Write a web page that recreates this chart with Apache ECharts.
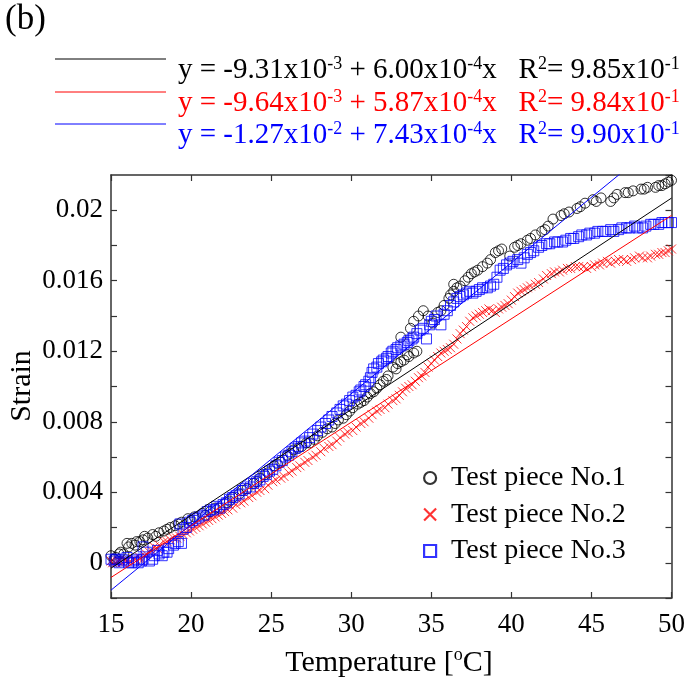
<!DOCTYPE html>
<html>
<head>
<meta charset="utf-8">
<script src="https://cdn.jsdelivr.net/npm/echarts@6/dist/echarts.min.js"></script>
<style>html,body{margin:0;padding:0;background:#fff}#c{width:688px;height:685px}</style>
</head>
<body>
<div id="c"></div>
<script>
// ---- data ----
const seriesNames = ['Test piece No.1', 'Test piece No.2', 'Test piece No.3'];
const seriesColors = ['#000000', '#ff0000', '#0000ff'];
const xTicks = [15, 20, 25, 30, 35, 40, 45, 50];
const yTickLabels = ['0', '0.004', '0.008', '0.012', '0.016', '0.02'];

const piece1 = [[15.0,0.0004],[15.3,0.0003],[15.5,0.0005],[15.8,0.0005],[16.0,0.0011],[16.3,0.0011],[16.5,0.0010],[16.8,0.0012],[17.0,0.0013],[17.3,0.0014],[17.6,0.0016],[18.0,0.0017],[18.3,0.0018],[18.7,0.0020],[19.0,0.0021],[19.4,0.0023],[19.8,0.0025],[20.2,0.0026],[20.7,0.0028],[21.2,0.0029],[21.8,0.0031],[22.2,0.0034],[22.6,0.0037],[23.0,0.0039],[23.5,0.0042],[23.9,0.0045],[24.3,0.0048],[24.8,0.0051],[25.2,0.0055],[25.6,0.0057],[26.0,0.0061],[26.4,0.0064],[26.9,0.0066],[27.4,0.0068],[27.9,0.0072],[28.5,0.0076],[29.0,0.0079],[29.5,0.0082],[29.9,0.0086],[30.4,0.0090],[30.8,0.0092],[31.2,0.0096],[31.6,0.0099],[32.0,0.0103],[32.3,0.0106],[32.6,0.0111],[32.9,0.0113],[33.3,0.0115],[33.6,0.0117],[33.9,0.0119],[33.1,0.0128],[33.7,0.0133],[33.9,0.0137],[34.2,0.0140],[34.5,0.0143],[34.8,0.0140],[35.1,0.0136],[35.4,0.0142],[35.8,0.0146],[36.1,0.0150],[36.4,0.0154],[36.4,0.0158],[36.8,0.0157],[37.1,0.0160],[37.5,0.0164],[37.9,0.0166],[38.2,0.0168],[38.5,0.0170],[39.0,0.0176],[39.4,0.0178],[39.9,0.0174],[40.2,0.0179],[40.6,0.0181],[41.0,0.0183],[41.5,0.0186],[41.9,0.0188],[42.3,0.0191],[42.6,0.0195],[43.1,0.0197],[43.6,0.0199],[44.1,0.0201],[44.6,0.0204],[45.1,0.0206],[45.6,0.0207],[46.2,0.0205],[46.6,0.0209],[47.1,0.0210],[47.6,0.0211],[48.1,0.0212],[48.5,0.0213],[49.0,0.0213],[49.4,0.0214],[49.8,0.0216],[50.0,0.0217],
[15.2,0.0002],[15.6,0.0006],[16.1,0.0009],[16.6,0.0012],[17.1,0.0015],[17.8,0.0015],[18.5,0.0019],[19.2,0.0022],[20.0,0.0024],[20.9,0.0027],[21.5,0.0031],[22.4,0.0035],[23.2,0.0041],[24.1,0.0046],[24.6,0.0050],[25.4,0.0056],[26.2,0.0062],[26.7,0.0065],[27.2,0.0068],[27.7,0.0070],[28.2,0.0074],[28.8,0.0077],[29.2,0.0081],[29.7,0.0084],[30.1,0.0088],[30.6,0.0091],[31.0,0.0094],[31.4,0.0097],[31.8,0.0101],[32.2,0.0104],[32.8,0.0110],[33.1,0.0114],[33.5,0.0118],[34.1,0.0120],[35.6,0.0143],[36.2,0.0152],[36.6,0.0156],[37.3,0.0162],[37.7,0.0165],[38.7,0.0172],[39.2,0.0177],[40.4,0.0180],[41.2,0.0184],[42.1,0.0189],[43.3,0.0198],[44.3,0.0202],[45.3,0.0205],[46.4,0.0207],[47.3,0.0210],[48.3,0.0212],[49.2,0.0214],[49.6,0.0215]];

const piece2 = [[15.0,0.0001],[15.3,0.0000],[15.6,0.0001],[15.9,0.0001],[16.2,0.0001],[16.5,0.0002],[16.8,0.0003],[17.1,0.0004],[17.4,0.0006],[17.7,0.0009],[18.0,0.0010],[18.3,0.0012],[18.7,0.0013],[19.1,0.0014],[19.5,0.0016],[19.9,0.0018],[20.3,0.0020],[20.7,0.0022],[21.1,0.0024],[21.5,0.0026],[21.9,0.0028],[22.3,0.0030],[22.8,0.0033],[23.3,0.0035],[23.8,0.0038],[24.3,0.0041],[24.8,0.0044],[25.3,0.0047],[25.8,0.0049],[26.3,0.0052],[26.8,0.0055],[27.3,0.0058],[27.8,0.0061],[28.3,0.0065],[28.8,0.0067],[29.3,0.0071],[29.8,0.0074],[30.3,0.0077],[30.8,0.0080],[31.3,0.0084],[31.8,0.0087],[32.3,0.0090],[32.8,0.0093],[33.2,0.0097],[33.6,0.0100],[34.0,0.0103],[34.4,0.0106],[34.8,0.0111],[35.2,0.0115],[35.6,0.0119],[36.0,0.0121],[36.4,0.0124],[36.8,0.0130],[37.2,0.0134],[37.6,0.0139],[38.0,0.0141],[38.4,0.0143],[38.8,0.0143],[39.2,0.0144],[39.6,0.0146],[40.0,0.0149],[40.4,0.0153],[40.8,0.0155],[41.2,0.0157],[41.7,0.0159],[42.2,0.0163],[42.7,0.0165],[43.2,0.0166],[43.7,0.0167],[44.2,0.0168],[44.7,0.0167],[45.2,0.0169],[45.7,0.0170],[46.2,0.0170],[46.7,0.0172],[47.2,0.0171],[47.7,0.0173],[48.2,0.0173],[48.7,0.0174],[49.2,0.0175],[49.6,0.0176],[50.0,0.0178],
[15.1,0.0000],[15.4,0.0001],[15.7,0.0000],[16.0,0.0001],[16.4,0.0002],[16.9,0.0001],[17.2,0.0005],[17.5,0.0007],[17.9,0.0008],[18.5,0.0012],[18.9,0.0014],[19.3,0.0015],[19.7,0.0017],[20.1,0.0019],[20.5,0.0021],[20.9,0.0023],[21.3,0.0025],[21.7,0.0027],[22.1,0.0029],[22.6,0.0031],[23.1,0.0034],[23.6,0.0037],[24.1,0.0040],[24.6,0.0042],[25.1,0.0046],[25.6,0.0048],[26.1,0.0051],[26.6,0.0054],[27.1,0.0057],[27.6,0.0060],[28.1,0.0063],[28.6,0.0066],[29.1,0.0069],[29.6,0.0073],[30.1,0.0075],[30.6,0.0079],[31.1,0.0082],[31.6,0.0086],[32.1,0.0088],[32.6,0.0092],[33.0,0.0095],[33.4,0.0099],[33.8,0.0101],[34.2,0.0105],[34.6,0.0108],[35.0,0.0113],[35.4,0.0117],[35.8,0.0120],[36.2,0.0122],[36.6,0.0127],[37.0,0.0132],[37.4,0.0137],[37.8,0.0140],[38.2,0.0142],[38.6,0.0144],[39.0,0.0142],[39.4,0.0145],[39.8,0.0147],[40.2,0.0151],[40.6,0.0154],[41.0,0.0156],[41.5,0.0158],[42.0,0.0161],[42.5,0.0164],[43.0,0.0165],[43.5,0.0167],[44.0,0.0168],[44.5,0.0168],[45.0,0.0168],[45.5,0.0169],[46.0,0.0171],[46.5,0.0171],[47.0,0.0172],[47.5,0.0172],[48.0,0.0174],[48.5,0.0173],[49.0,0.0175],[49.4,0.0176],[49.8,0.0177]];

const piece3 = [[15.2,0.0001],[15.5,0.0000],[15.8,0.0001],[16.1,0.0000],[16.4,0.0001],[16.7,0.0000],[17.0,0.0002],[17.0,0.0009],[17.4,0.0001],[17.7,0.0004],[18.0,0.0005],[18.3,0.0006],[18.6,0.0008],[19.0,0.0011],[19.4,0.0011],[19.3,0.0022],[19.7,0.0020],[20.1,0.0024],[20.5,0.0026],[21.0,0.0029],[21.4,0.0030],[21.8,0.0031],[22.2,0.0034],[22.6,0.0037],[23.0,0.0039],[23.4,0.0042],[23.9,0.0045],[24.3,0.0047],[24.7,0.0050],[25.1,0.0053],[25.5,0.0057],[25.9,0.0060],[26.3,0.0063],[26.7,0.0066],[27.1,0.0069],[27.6,0.0073],[28.1,0.0077],[28.6,0.0081],[29.1,0.0085],[29.5,0.0089],[29.9,0.0092],[30.3,0.0095],[30.6,0.0098],[30.9,0.0101],[31.2,0.0105],[31.4,0.0110],[31.7,0.0113],[32.0,0.0115],[32.3,0.0117],[32.6,0.0120],[32.9,0.0122],[33.3,0.0124],[33.6,0.0126],[33.9,0.0128],[34.3,0.0132],[34.7,0.0127],[35.0,0.0137],[35.3,0.0140],[35.6,0.0135],[36.0,0.0143],[36.4,0.0148],[36.8,0.0151],[37.2,0.0153],[37.6,0.0153],[38.0,0.0155],[38.5,0.0156],[38.9,0.0158],[39.3,0.0166],[39.7,0.0169],[40.1,0.0171],[40.6,0.0170],[41.0,0.0175],[41.4,0.0177],[41.9,0.0180],[42.4,0.0181],[42.9,0.0182],[43.4,0.0183],[43.9,0.0184],[44.4,0.0186],[44.9,0.0187],[45.4,0.0188],[45.9,0.0188],[46.4,0.0188],[46.9,0.0190],[47.4,0.0190],[47.9,0.0190],[48.4,0.0191],[48.9,0.0192],[49.4,0.0193],[49.8,0.0193],[50.0,0.0193],
[15.0,0.0002],[15.3,0.0002],[15.7,0.0002],[16.0,0.0003],[16.3,0.0000],[16.6,0.0002],[16.9,0.0001],[17.2,0.0006],[17.6,0.0002],[17.9,0.0007],[18.2,0.0004],[18.5,0.0006],[18.9,0.0010],[19.2,0.0012],[19.5,0.0019],[19.9,0.0023],[20.3,0.0025],[20.8,0.0027],[21.2,0.0030],[21.6,0.0032],[22.0,0.0033],[22.4,0.0036],[22.8,0.0038],[23.2,0.0041],[23.7,0.0043],[24.1,0.0046],[24.5,0.0049],[24.9,0.0052],[25.3,0.0055],[25.7,0.0058],[26.1,0.0061],[26.5,0.0065],[26.9,0.0068],[27.4,0.0071],[27.9,0.0075],[28.4,0.0079],[28.8,0.0083],[29.3,0.0087],[29.7,0.0090],[30.1,0.0094],[30.5,0.0097],[30.8,0.0100],[31.1,0.0103],[31.3,0.0108],[31.6,0.0111],[31.9,0.0114],[32.2,0.0116],[32.5,0.0119],[32.8,0.0121],[33.1,0.0123],[33.5,0.0125],[33.8,0.0127],[34.1,0.0130],[34.5,0.0133],[34.9,0.0135],[35.2,0.0138],[35.8,0.0141],[36.2,0.0146],[36.6,0.0150],[37.0,0.0152],[37.4,0.0154],[37.8,0.0154],[38.2,0.0156],[38.7,0.0157],[39.1,0.0162],[39.5,0.0167],[39.9,0.0170],[40.4,0.0172],[40.8,0.0173],[41.2,0.0176],[41.7,0.0179],[42.2,0.0181],[42.7,0.0182],[43.2,0.0182],[43.7,0.0184],[44.2,0.0185],[44.7,0.0186],[45.2,0.0187],[45.7,0.0188],[46.2,0.0189],[46.7,0.0189],[47.2,0.0190],[47.7,0.0191],[48.2,0.0190],[48.7,0.0192],[49.2,0.0192],[49.6,0.0193]];

// linear fits y = a + b x
const fitIntercept = [-9.31e-3, -9.64e-3, -1.27e-2];
const fitSlope = [6.00e-4, 5.87e-4, 7.43e-4];
const fitR2 = [0.985, 0.984, 0.990];
const fitRange = [15, 50];

// ---- build ----
const FONT = '"Liberation Serif","Times New Roman",serif';
const crossPath = 'path://M0,0L10,10M10,0L0,10';
const symbols = ['circle', crossPath, 'rect'];
const pieces = [piece1, piece2, piece3];

function sci(v) {
  const s = v.toExponential(2).split('e');
  return { m: s[0], e: String(parseInt(s[1], 10)) };
}

const series = [];
pieces.forEach((d, i) => {
  series.push({
    name: seriesNames[i], type: 'scatter', data: d,
    symbol: symbols[i], symbolSize: i === 1 ? 9 : 10,
    itemStyle: { color: 'transparent', borderColor: seriesColors[i], borderWidth: 1 },
    emphasis: { disabled: true }, z: 2
  });
});
fitIntercept.forEach((a, i) => {
  series.push({
    name: 'fit' + (i + 1), type: 'line', showSymbol: false, clip: true,
    data: fitRange.map(x => [x, a + fitSlope[i] * x]),
    lineStyle: { color: seriesColors[i], width: 1 }, z: 3, silent: true
  });
});

const axisLine = { show: true, onZero: false, lineStyle: { color: '#333', width: 1.5 } };
const tick = { show: true, inside: true, length: 6, lineStyle: { color: '#333', width: 1.2 } };

const graphics = [];
graphics.push({ type: 'text', left: 5, top: 2, style: { text: '(b)', font: '35px ' + FONT, fill: '#000' } });
const rowY = [70, 103, 135];
fitIntercept.forEach((a, i) => {
  const A = sci(a), B = sci(fitSlope[i]), R = sci(fitR2[i]);
  graphics.push({ type: 'line', shape: { x1: 55, y1: rowY[i] - 11, x2: 166, y2: rowY[i] - 11 },
    style: { stroke: seriesColors[i], lineWidth: 1 } });
  graphics.push({ type: 'text', x: 178, y: rowY[i],
    style: {
      text: '{m|y = ' + A.m + 'x10}{s|' + A.e + '}{m| + ' + B.m + 'x10}{s|' + B.e + '}{m|x   R}{s|2}{m|= ' + R.m + 'x10}{s|' + R.e + '}',
      verticalAlign: 'middle', align: 'left',
      rich: {
        m: { fontSize: 29, fontFamily: FONT, fill: seriesColors[i], lineHeight: 30, verticalAlign: 'bottom' },
        s: { fontSize: 18, fontFamily: FONT, fill: seriesColors[i], lineHeight: 16, verticalAlign: 'top' }
      }
    } });
});
graphics.push({ type: 'text', x: 22, y: 386, rotation: Math.PI / 2,
  style: { text: 'Strain', font: '30px ' + FONT, fill: '#000', align: 'center', verticalAlign: 'middle' } });
graphics.push({ type: 'text', x: 389, y: 662,
  style: { text: '{m|Temperature [}{s|o}{m|C]}', align: 'center', verticalAlign: 'middle',
    rich: {
      m: { fontSize: 30, fontFamily: FONT, fill: '#000', lineHeight: 32, verticalAlign: 'bottom' },
      s: { fontSize: 18, fontFamily: FONT, fill: '#000', lineHeight: 16, verticalAlign: 'top' }
    } } });

const option = {
  animation: false,
  backgroundColor: '#fff',
  grid: { left: 111, right: 16, top: 175, bottom: 87, containLabel: false },
  legend: {
    orient: 'vertical', left: 418, top: 458, itemWidth: 12, itemHeight: 12, itemGap: 6.5,
    selectedMode: false,
    textStyle: { fontFamily: FONT, fontSize: 28, color: '#000', lineHeight: 30, padding: [0, 0, 0, 10] },
    data: seriesNames.map((n, i) => ({
      name: n, icon: symbols[i],
      itemStyle: { color: 'transparent', borderColor: seriesColors[i], borderWidth: 2.2 }
    }))
  },
  xAxis: [
    { type: 'value', min: xTicks[0], max: xTicks[xTicks.length - 1], interval: 5, position: 'bottom',
      axisLine, axisTick: tick, splitLine: { show: false },
      axisLabel: { fontFamily: FONT, fontSize: 27, color: '#000', margin: 13 } },
    { type: 'value', min: xTicks[0], max: xTicks[xTicks.length - 1], interval: 5, position: 'top',
      axisLine, axisTick: tick, splitLine: { show: false }, axisLabel: { show: false } }
  ],
  yAxis: [
    { type: 'value', min: -0.002, max: 0.022, interval: 0.002, position: 'left',
      axisLine, axisTick: tick, splitLine: { show: false },
      axisLabel: { fontFamily: FONT, fontSize: 27, color: '#000', margin: 8, showMinLabel: true, showMaxLabel: false,
        formatter: v => { const r = Math.round(v * 1000); if (r < 0 || r % 4 !== 0) return ''; const s = String(r / 1000); return yTickLabels.indexOf(s) >= 0 ? s : ''; } } },
    { type: 'value', min: -0.002, max: 0.022, interval: 0.002, position: 'right',
      axisLine, axisTick: tick, splitLine: { show: false }, axisLabel: { show: false } }
  ],
  series,
  graphic: graphics
};

const chart = echarts.init(document.getElementById('c'), null, { renderer: 'canvas' });
chart.setOption(option);
</script>
</body>
</html>
